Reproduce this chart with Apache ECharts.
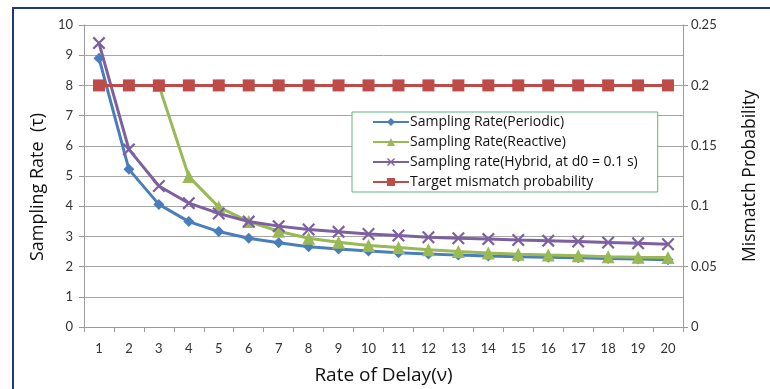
<!DOCTYPE html>
<html>
<head>
<meta charset="utf-8">
<script src="https://cdn.jsdelivr.net/npm/echarts@6/dist/echarts.min.js"></script>
<style>
html,body{margin:0;padding:0;background:#fff;}
#chart{width:770px;height:389px;}
</style>
</head>
<body>
<div id="chart"></div>
<script>
var categories = ['1','2','3','4','5','6','7','8','9','10','11','12','13','14','15','16','17','18','19','20'];
var periodic = [8.9, 5.22, 4.06, 3.49, 3.16, 2.94, 2.79, 2.66, 2.58, 2.52, 2.46, 2.42, 2.38, 2.35, 2.33, 2.31, 2.29, 2.27, 2.25, 2.23];
var reactive = [null, null, 8.0, 4.98, 3.97, 3.49, 3.17, 2.94, 2.81, 2.70, 2.63, 2.56, 2.50, 2.45, 2.41, 2.38, 2.36, 2.33, 2.31, 2.30];
var hybrid = [9.4, 5.88, 4.67, 4.1, 3.76, 3.49, 3.34, 3.23, 3.15, 3.08, 3.03, 2.97, 2.94, 2.91, 2.88, 2.86, 2.83, 2.80, 2.77, 2.74];
var target = [0.2, 0.2, 0.2, 0.2, 0.2, 0.2, 0.2, 0.2, 0.2, 0.2, 0.2, 0.2, 0.2, 0.2, 0.2, 0.2, 0.2, 0.2, 0.2, 0.2];
var leftTicks = [0, 1, 2, 3, 4, 5, 6, 7, 8, 9, 10];
var rightTicks = [0, 0.05, 0.1, 0.15, 0.2, 0.25];

var FONT = 'Lato, "Open Sans", sans-serif';
var LFONT = '"Open Sans", sans-serif';
var crossPath = 'path://M0,1.2 L1.2,0 L5,3.8 L8.8,0 L10,1.2 L6.2,5 L10,8.8 L8.8,10 L5,6.2 L1.2,10 L0,8.8 L3.8,5 Z';

var chart = echarts.init(document.getElementById('chart'));
chart.setOption({
  backgroundColor: '#fff',
  animation: false,
  textStyle: {fontFamily: FONT},
  graphic: [{
    type: 'rect',
    shape: {x: 13, y: 8, width: 800, height: 420},
    style: {fill: 'none', stroke: '#1F3B73', lineWidth: 2},
    z: 100
  }],
  grid: {left: 84, right: 87, top: 25, bottom: 62, containLabel: false, outerBoundsMode: 'none'},
  legend: {
    orient: 'vertical',
    left: 352, top: 112,
    backgroundColor: '#fff',
    borderColor: '#5DB87A',
    borderWidth: 1,
    padding: [3, 20, 3, 20],
    itemWidth: 36, itemHeight: 10,
    itemGap: 6,
    textStyle: {fontFamily: LFONT, fontSize: 14, color: '#111', padding: [0, 0, 0, -4]},
    data: ['Sampling Rate(Periodic)', 'Sampling Rate(Reactive)', 'Sampling rate(Hybrid, at d0 = 0.1 s)', 'Target mismatch probability']
  },
  xAxis: {
    type: 'category',
    data: categories,
    boundaryGap: true,
    name: 'Rate of Delay(ν)',
    nameLocation: 'middle',
    nameGap: 39,
    nameTextStyle: {fontFamily: LFONT, fontSize: 19, color: '#111'},
    axisLine: {lineStyle: {color: '#9A9A9A', width: 1}},
    axisTick: {show: true, length: 5, lineStyle: {color: '#9A9A9A'}},
    axisLabel: {margin: 15, fontSize: 13, color: '#333', fontFamily: FONT},
    splitLine: {show: false}
  },
  yAxis: [{
    type: 'value',
    min: 0, max: 10, interval: 1,
    position: 'left',
    name: 'Sampling Rate  (τ)',
    nameLocation: 'middle',
    nameGap: 36,
    nameTextStyle: {fontFamily: LFONT, fontSize: 18, color: '#111', padding: [0, 22, 0, 0]},
    axisLine: {show: true, lineStyle: {color: '#9A9A9A'}},
    axisTick: {show: true, length: 5, lineStyle: {color: '#9A9A9A'}},
    axisLabel: {margin: 11, fontSize: 13, color: '#333', fontFamily: FONT,
      formatter: function (v) { return leftTicks.indexOf(v) >= 0 ? String(v) : ''; }},
    splitLine: {show: true, lineStyle: {color: '#A6A6A6', width: 1}}
  }, {
    type: 'value',
    min: 0, max: 0.25, interval: 0.05,
    position: 'right',
    name: 'Mismatch Probability',
    nameLocation: 'middle',
    nameGap: 58,
    nameRotate: 90,
    nameTextStyle: {fontFamily: LFONT, fontSize: 17.5, color: '#111'},
    axisLine: {show: true, lineStyle: {color: '#9A9A9A'}},
    axisTick: {show: true, length: 5, lineStyle: {color: '#9A9A9A'}},
    axisLabel: {margin: 8, fontSize: 13, color: '#333', fontFamily: FONT,
      formatter: function (v) { var r = Math.round(v * 100) / 100; return rightTicks.indexOf(r) >= 0 ? String(r) : ''; }},
    splitLine: {show: false}
  }],
  series: [{
    name: 'Sampling Rate(Periodic)',
    type: 'line',
    data: periodic,
    yAxisIndex: 0,
    symbol: 'diamond', symbolSize: 11,
    lineStyle: {color: '#4A7EBB', width: 3},
    itemStyle: {color: '#4A7EBB'},
    z: 2
  }, {
    name: 'Sampling Rate(Reactive)',
    type: 'line',
    data: reactive,
    yAxisIndex: 0,
    symbol: 'triangle', symbolSize: 13,
    lineStyle: {color: '#98B954', width: 3},
    itemStyle: {color: '#98B954'},
    z: 3
  }, {
    name: 'Sampling rate(Hybrid, at d0 = 0.1 s)',
    type: 'line',
    data: hybrid,
    yAxisIndex: 0,
    symbol: crossPath, symbolSize: 13,
    lineStyle: {color: '#7D60A0', width: 3},
    itemStyle: {color: '#7D60A0'},
    z: 4
  }, {
    name: 'Target mismatch probability',
    type: 'line',
    data: target,
    yAxisIndex: 1,
    symbol: 'rect', symbolSize: 12,
    lineStyle: {color: '#BE4B48', width: 3},
    itemStyle: {color: '#BE4B48'},
    z: 5
  }]
});
</script>
</body>
</html>
